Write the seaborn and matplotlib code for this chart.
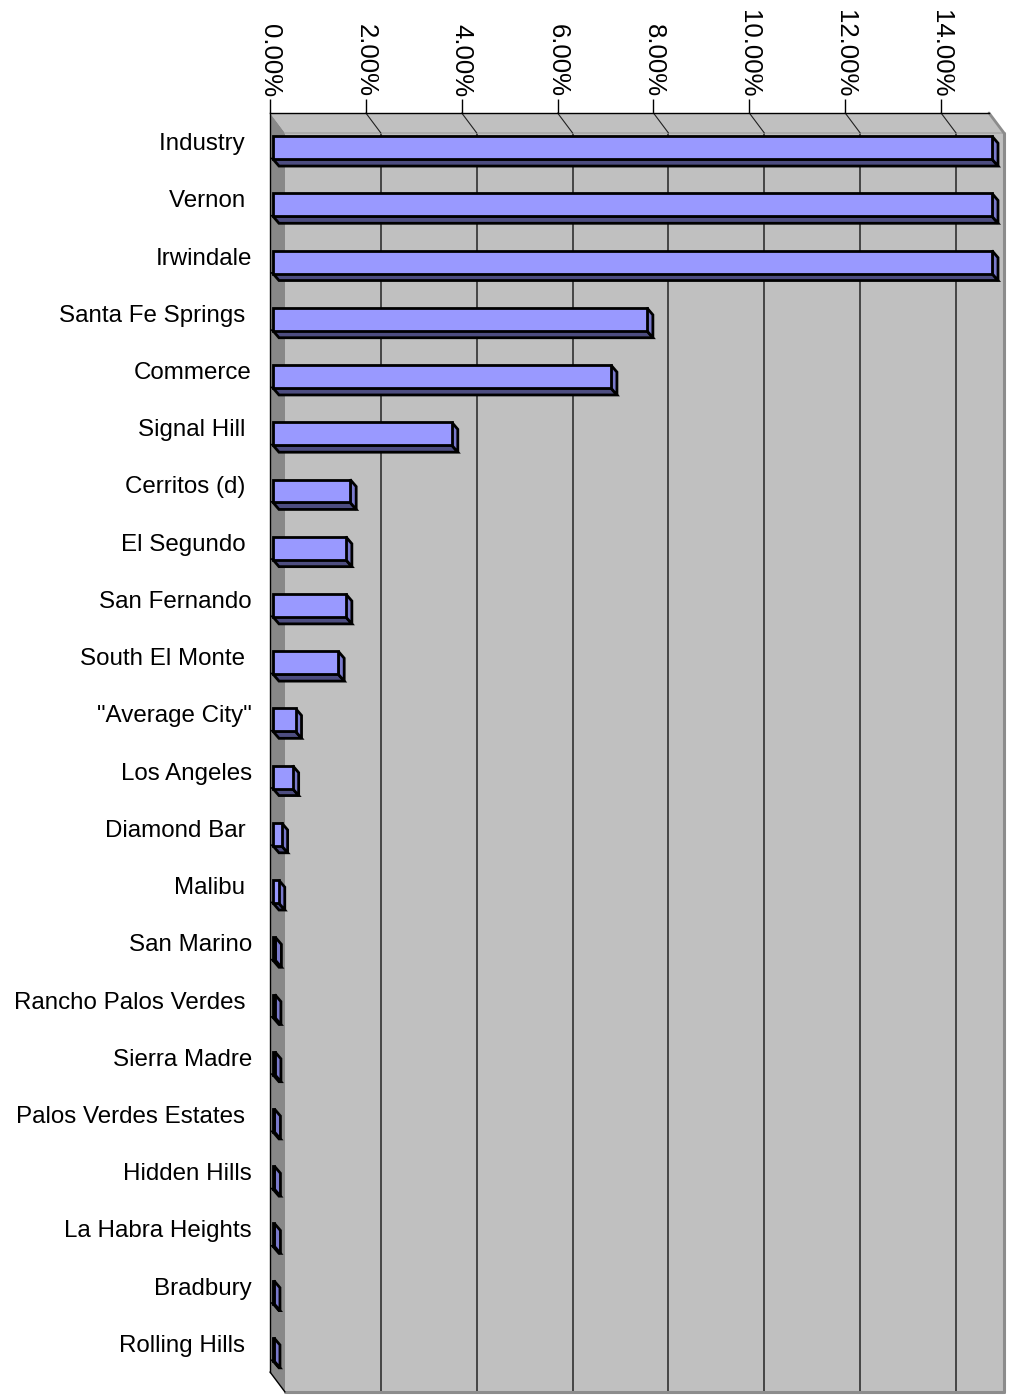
import numpy as np
import pandas as pd
import matplotlib
matplotlib.use("Agg")
import matplotlib.pyplot as plt
from matplotlib.patches import Polygon, Rectangle
from matplotlib.lines import Line2D
from matplotlib.ticker import FixedLocator
import seaborn as sns

# Cities (some names carry a trailing space in the source sheet)
cities = [
    "Industry ", "Vernon ", "Irwindale", "Santa Fe Springs ", "Commerce",
    "Signal Hill ", "Cerritos (d) ", "El Segundo ", "San Fernando",
    "South El Monte ", "\"Average City\"", "Los Angeles", "Diamond Bar ",
    "Malibu ", "San Marino", "Rancho Palos Verdes ", "Sierra Madre",
    "Palos Verdes Estates ", "Hidden Hills", "La Habra Heights", "Bradbury",
    "Rolling Hills ",
]
# Share in percent (first three run past the axis maximum and are cut at it)
shares = [
    15.0, 15.0, 15.0, 7.80, 7.05,
    3.73, 1.61, 1.52, 1.52,
    1.36, 0.47, 0.41, 0.18,
    0.12, 0.05, 0.04, 0.04,
    0.03, 0.03, 0.03, 0.02,
    0.02,
]
tick_values = [0, 2, 4, 6, 8, 10, 12, 14]
tick_labels = ["0.00%", "2.00%", "4.00%", "6.00%", "8.00%", "10.00%", "12.00%", "14.00%"]
axis_max = 15.0

sns.set_style("white")
plt.rcParams["font.family"] = ["Liberation Sans", "DejaVu Sans"]

W, H, DPI = 1013, 1395, 100
fig = plt.figure(figsize=(W / DPI, H / DPI), dpi=DPI)
fig.patch.set_facecolor("white")

# front frame of the plot area, in pixels
L, R, T, B = 270, 989, 113, 1372
ax = fig.add_axes([L / W, (H - B) / H, (R - L) / W, (B - T) / H])
ax.patch.set_visible(False)

n = len(cities)
ux = (R - L) / axis_max      # px per percent
uy = (B - T) / n             # px per category

# depth of the walls and of the bars, in data units
wall_dx, wall_dy = 15 / ux, 20 / uy
bar_dx, bar_dy = 3 / ux, 6 / uy
ext_dx, ext_dy = 6 / ux, 7 / uy
edge_w = 2.0

df = pd.DataFrame({"city": cities, "share": shares})
sns.barplot(data=df, x="share", y="city", orient="h", color="#9999FF",
            saturation=1, width=0.40, edgecolor="black", linewidth=edge_w,
            ax=ax, zorder=3)

ax.set_xlim(0, axis_max)
ax.set_ylim(n - 0.5, -0.5)

wall_col = "#C0C0C0"
frame_col = "#8C8C8C"

# back wall
ax.add_patch(Rectangle((wall_dx, -0.5 + wall_dy), axis_max, n,
                       facecolor=wall_col, edgecolor="none", zorder=0.5, clip_on=False))
# back wall right and bottom borders
ax.add_line(Line2D([axis_max + wall_dx] * 2, [-0.5 + wall_dy, n - 0.5 + wall_dy],
                   color=frame_col, lw=2.2, zorder=0.8, clip_on=False))
ax.add_line(Line2D([wall_dx, axis_max + wall_dx], [n - 0.5 + wall_dy] * 2,
                   color=frame_col, lw=2.2, zorder=0.8, clip_on=False))

# side wall along the top
ax.add_patch(Polygon([(0, -0.5), (axis_max, -0.5),
                      (axis_max + wall_dx, -0.5 + wall_dy), (wall_dx, -0.5 + wall_dy)],
                     closed=True, facecolor=wall_col, edgecolor="none",
                     zorder=0.7, clip_on=False))
ax.add_line(Line2D([axis_max, axis_max + wall_dx], [-0.5, -0.5 + wall_dy],
                   color=frame_col, lw=2.0, zorder=0.8, clip_on=False))
ax.add_line(Line2D([wall_dx, axis_max + wall_dx], [-0.5 + wall_dy] * 2,
                   color="#A8A8A8", lw=1.2, zorder=0.75, clip_on=False))

# floor strip on the left
ax.add_patch(Polygon([(0, -0.5), (wall_dx, -0.5 + wall_dy),
                      (wall_dx, n - 0.5 + wall_dy), (0, n - 0.5)],
                     closed=True, facecolor="#888888", edgecolor="none",
                     zorder=0.7, clip_on=False))
ax.add_line(Line2D([0, wall_dx], [n - 0.5, n - 0.5 + wall_dy],
                   color="black", lw=1.0, zorder=0.9, clip_on=False))

# gridlines on the back wall and their diagonals on the top wall
for v in tick_values[1:]:
    ax.add_line(Line2D([v + wall_dx] * 2, [-0.5 + wall_dy, n - 0.5 + wall_dy],
                       color="#3C3C3C", lw=1.3, zorder=0.6, clip_on=False))
    ax.add_line(Line2D([v, v + wall_dx], [-0.5, -0.5 + wall_dy],
                       color="#202020", lw=0.8, zorder=0.8, clip_on=False))

# bars: shift the front faces into depth, then extrude right and bottom faces
for p in ax.patches:
    if p.get_zorder() != 3:
        continue
    p.set_x(p.get_x() + bar_dx)
    p.set_y(p.get_y() + bar_dy)
    p.set_clip_on(False)
    p.set_joinstyle("miter")
    x0 = p.get_x()
    x1 = x0 + p.get_width()
    yt = p.get_y()
    yb = yt + p.get_height()
    ax.add_patch(Polygon([(x1, yt), (x1 + ext_dx, yt + ext_dy),
                          (x1 + ext_dx, yb + ext_dy), (x1, yb)],
                         closed=True, facecolor="#7A7ACC", edgecolor="black",
                         lw=edge_w, joinstyle="miter", zorder=2.6, clip_on=False))
    ax.add_patch(Polygon([(x0, yb), (x1, yb), (x1 + ext_dx, yb + ext_dy),
                          (x0 + ext_dx, yb + ext_dy)],
                         closed=True, facecolor="#4D4D80", edgecolor="black",
                         lw=edge_w, joinstyle="miter", zorder=2.5, clip_on=False))

# spines
for side in ("right", "bottom"):
    ax.spines[side].set_visible(False)
for side in ("left", "top"):
    ax.spines[side].set_visible(True)
    ax.spines[side].set_color("black")
    ax.spines[side].set_linewidth(1.0)
    ax.spines[side].set_zorder(4)

ax.set_xlabel("")
ax.set_ylabel("")

# value axis along the top
ax.xaxis.set_ticks_position("top")
ax.set_xticks(tick_values)
ax.set_xticklabels(tick_labels, rotation=-90, fontsize=18.5)
ax.tick_params(axis="x", length=10, width=1.0, pad=1.5, colors="black", direction="out")

# category axis
ax.set_yticks(range(n))
ax.set_yticklabels(cities, fontsize=17.4)
ax.yaxis.set_minor_locator(FixedLocator(np.arange(-0.5, n, 1.0)))
ax.tick_params(axis="y", which="major", length=0, pad=13, colors="black")
ax.tick_params(axis="y", which="minor", length=10, width=1.0, color="black", direction="out")

fig.savefig("out.png", dpi=DPI)
